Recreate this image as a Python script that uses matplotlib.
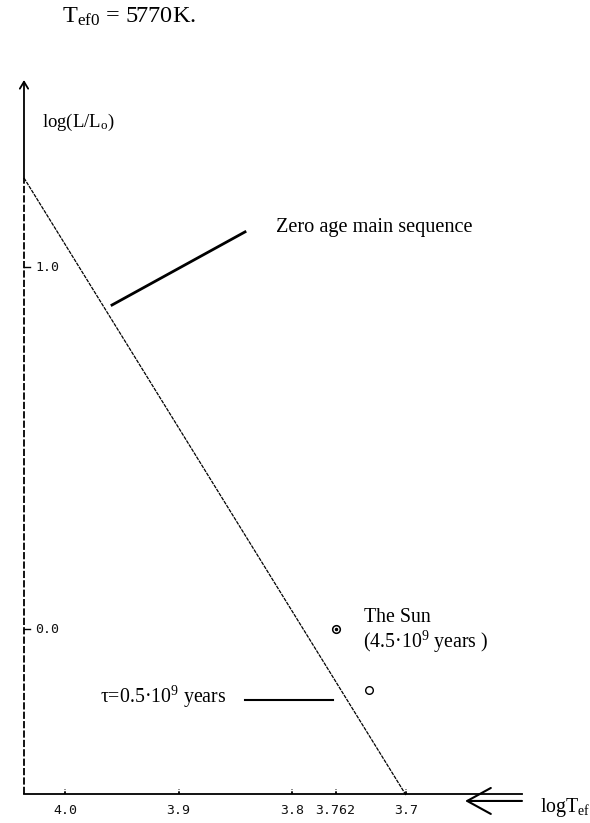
import matplotlib.pyplot as plt

plt.rcParams["font.family"] = ["Liberation Serif", "DejaVu Serif"]
plt.rcParams["mathtext.fontset"] = "custom"
plt.rcParams["mathtext.rm"] = "Liberation Serif"
plt.rcParams["mathtext.it"] = "Liberation Serif:italic"

# zero age main sequence (log Teff, log L/Lo)
zams_logt = [4.036, 3.70]
zams_logl = [1.246, -0.459]

# the Sun now and the young Sun
sun_logt, sun_logl = 3.762, 0.0
young_logt, young_logl = 3.733, -0.169

xtick_values = [4.0, 3.9, 3.8, 3.762, 3.7]
xtick_labels = ["4.0", "3.9", "3.8", "3.762", "3.7"]
ytick_values = [1.0, 0.0]
ytick_labels = ["1.0", "0.0"]

x_left, x_right = 4.036, 3.598
y_bottom, y_top = -0.456, 1.5166

fig = plt.figure(figsize=(5.9, 8.23), dpi=100)
ax = fig.add_axes([0, 0, 1, 1])
ax.set_xlim(4.0571, 3.5382)
ax.set_ylim(-0.5359, 1.7376)
ax.axis("off")

# axes
ax.plot([x_left, x_right], [y_bottom, y_bottom], color="black", lw=1.3)
ax.plot([x_left, x_left], [y_bottom, zams_logl[0]], color="black", lw=1.3,
        linestyle=(0, (4, 1.2)))
ax.annotate("", xy=(x_left, y_top), xytext=(x_left, zams_logl[0]),
            arrowprops=dict(arrowstyle="->, head_length=0.5, head_width=0.3",
                            color="black", lw=1.3, shrinkA=0, shrinkB=0))
ax.annotate("", xy=(3.6481, -0.475), xytext=(x_right, -0.475),
            arrowprops=dict(arrowstyle="->, head_length=1.0, head_width=0.55",
                            mutation_scale=17, color="black", lw=1.5,
                            shrinkA=0, shrinkB=0))

# ticks
for v, lab in zip(xtick_values, xtick_labels):
    ax.plot([v, v], [y_bottom, y_bottom + 0.015], color="black", lw=1.3,
            linestyle=(0, (1.5, 1)))
    ax.text(v, -0.5, lab, family="DejaVu Sans Mono", fontsize=9.5,
            color="#111111", ha="center", va="center")
for v, lab in zip(ytick_values, ytick_labels):
    ax.plot([x_left, x_left - 0.005], [v, v], color="black", lw=1.0)
    ax.text(4.0263, v, lab, family="DejaVu Sans Mono", fontsize=9.5,
            color="#111111", ha="left", va="center")

# main sequence
ax.plot(zams_logt, zams_logl, color="black", lw=0.9, linestyle=(0, (3, 0.8)))

# markers
ax.plot(sun_logt, sun_logl, marker="o", ms=5.5, mfc="white", mec="black", mew=1.1)
ax.plot(sun_logt, sun_logl, marker="o", ms=1.5, color="black")
ax.plot(young_logt, young_logl, marker="o", ms=5.5, mfc="white", mec="black",
        mew=1.0)

# pointer lines
ax.plot([3.9586, 3.8416], [0.895, 1.097], color="black", lw=2.0)
ax.plot([3.8416, 3.7642], [-0.196, -0.196], color="black", lw=1.5)

# labels
ax.text(4.0026, 1.690, "T$_{\\rm ef0}$ = 5770K.", fontsize=17.5,
        ha="left", va="center")
ax.text(4.020, 1.398, "log(L/L$_{\\rm o}$)", fontsize=13.5, ha="left",
        va="center")
ax.text(3.8144, 1.110, "Zero age main sequence", fontsize=14.6, ha="left",
        va="center")
ax.text(3.737, 0.033, "The Sun", fontsize=14.3, ha="left", va="center")
ax.text(3.7379, -0.036, "(4.5·10$^{9}$ years )", fontsize=14.3, ha="left",
        va="center")
ax.text(3.9692, -0.188, "τ=0.5·10$^{9}$ years", fontsize=14.3, ha="left",
        va="center")
ax.text(3.582, -0.494, "logT$_{\\rm ef}$", fontsize=14.3, ha="left",
        va="center")

fig.savefig("out.png", dpi=100)
